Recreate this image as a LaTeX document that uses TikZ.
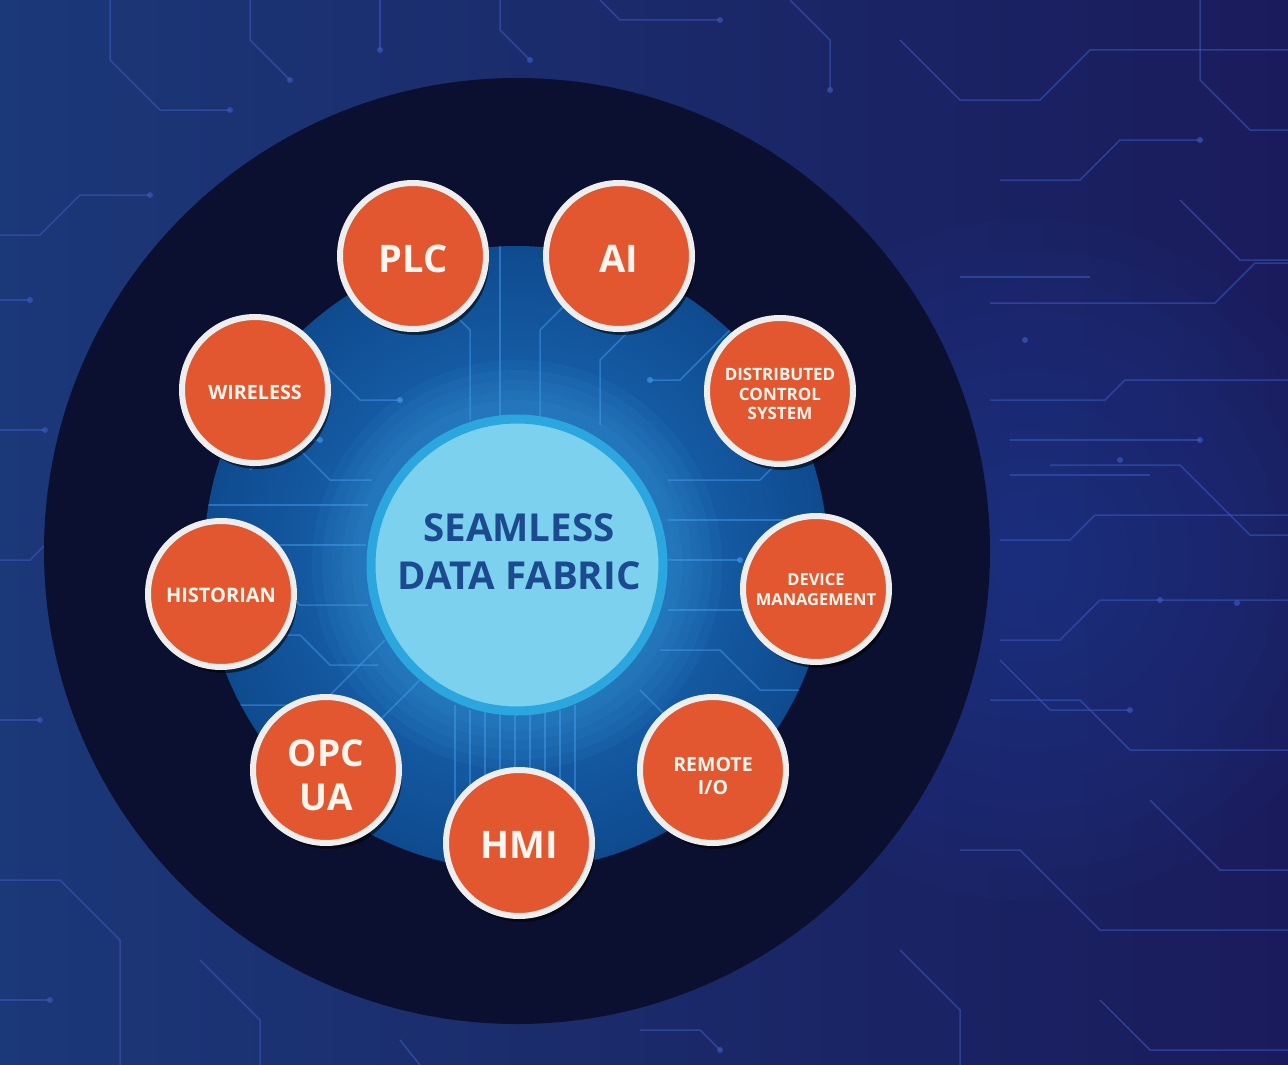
\documentclass[tikz,border=0pt]{standalone}
\usepackage{fontspec}
\setmainfont{Open Sans}
\usetikzlibrary{shadows,calc}
\definecolor{bgA}{HTML}{1B3878}
\definecolor{bgB}{HTML}{1A1B5C}
\definecolor{ringc}{HTML}{0C1030}
\definecolor{glowIn}{HTML}{1D78C8}
\definecolor{glowOut}{HTML}{0F4A8E}
\definecolor{hubFill}{HTML}{7CD2EE}
\definecolor{hubLine}{HTML}{2BA6DE}
\definecolor{hubText}{HTML}{1C4A8E}
\definecolor{orbc}{HTML}{E2572F}
\definecolor{orbRim}{HTML}{EEEEEE}
\definecolor{orbTxt}{HTML}{FDF6EE}
\definecolor{tracebg}{HTML}{3A5BC0}
\definecolor{tracein}{HTML}{3F95E6}
\definecolor{sideglow}{HTML}{2C4AA6}
\definecolor{hubhalo}{HTML}{4FB6F0}
\tikzset{
  orbstyle/.style={circle, fill=orbc, draw=orbRim, line width=6pt, minimum size=146pt,
    inner sep=0pt,
    drop shadow={shadow xshift=3pt, shadow yshift=-6pt, opacity=.55, fill=black}},
  orbtext/.style={text=orbTxt, align=center, inner sep=0pt},
  bgtrace/.style={draw=tracebg, line width=1.5pt, opacity=.55},
  intrace/.style={draw=tracein, line width=1.5pt, opacity=.55},
}
\newcommand{\fsz}[2]{\fontsize{#1}{#2}\selectfont}
\begin{document}
\begin{tikzpicture}[x=1pt,y=-1pt]
\useasboundingbox (0,0) rectangle (1288,1065);
% background
\fill[left color=bgA, right color=bgB] (0,0) rectangle (1288,1065);
\foreach \r in {340,310,...,40}{
  \fill[color=sideglow, fill opacity=.05] (1030,560) circle (\r);
}
% background traces
\foreach \p in {
  {(0,235)--(40,235)--(80,195)--(150,195)},
  {(0,300)--(30,300)},
  {(110,0)--(110,60)--(160,110)--(230,110)},
  {(250,0)--(250,40)--(290,80)},
  {(380,0)--(380,50)},
  {(600,0)--(620,20)--(720,20)},
  {(790,0)--(830,40)--(830,90)},
  {(900,40)--(960,100)--(1040,100)--(1090,50)--(1288,50)},
  {(1000,180)--(1080,180)--(1120,140)--(1200,140)},
  {(960,277)--(1090,277)},
  {(990,303)--(1215,303)--(1255,263)--(1288,263)},
  {(990,400)--(1105,400)--(1125,380)--(1288,380)},
  {(1010,440)--(1200,440)},
  {(1050,465)--(1180,465)--(1250,535)--(1288,535)},
  {(1010,475)--(1150,475)},
  {(1000,540)--(1070,540)--(1095,515)--(1288,515)},
  {(1000,640)--(1060,640)--(1100,600)--(1288,600)},
  {(990,700)--(1080,700)--(1130,750)--(1288,750)},
  {(1000,660)--(1050,710)--(1130,710)},
  {(960,850)--(1020,850)--(1100,930)--(1288,930)},
  {(900,950)--(960,1010)--(960,1065)},
  {(1150,800)--(1220,870)--(1288,870)},
  {(0,720)--(40,720)},
  {(0,880)--(60,880)--(120,940)--(120,1065)},
  {(200,960)--(260,1020)--(260,1065)},
  {(400,1040)--(420,1065)},
  {(640,1030)--(700,1030)--(720,1050)},
  {(0,430)--(45,430)},
  {(1200,0)--(1200,80)--(1250,130)--(1288,130)},
  {(1100,1000)--(1150,1050)--(1288,1050)},
  {(0,1000)--(50,1000)},
  {(500,0)--(500,30)--(530,60)},
  {(1180,200)--(1240,260)--(1288,260)},
  {(0,560)--(30,560)--(50,540)}
}{
  \draw[bgtrace] \p;
}
\foreach \q in {(150,195),(230,110),(290,80),(380,50),(720,20),(830,90),(1200,140),(1200,440),(530,60),(50,1000),(720,1050),(30,300),(40,720),(45,430),(1120,460),(1160,600),(1237,603),(1025,340),(1130,710)}{
  \fill[tracebg, opacity=.65] \q circle (3);
}
% big dark ring
\fill[ringc] (517,551) circle (473);
% inner glow region
\shade[inner color=glowIn, outer color=glowOut] (516,558) circle (312);
\begin{scope}
\clip (516,558) circle (312);
\foreach \p in {
  {(200,450)--(300,450)--(330,480)--(372,480)},
  {(200,505)--(368,505)},
  {(200,545)--(366,545)},
  {(200,585)--(280,585)--(300,605)--(368,605)},
  {(200,635)--(300,635)--(330,665)--(378,665)},
  {(230,705)--(320,705)--(385,640)},
  {(668,480)--(760,480)--(790,450)--(840,450)},
  {(668,520)--(840,520)},
  {(668,560)--(740,560)},
  {(668,610)--(840,610)},
  {(660,650)--(720,650)--(760,690)--(840,690)},
  {(455,705)--(455,880)},{(470,710)--(470,880)},{(485,712)--(485,880)},
  {(500,714)--(500,880)},{(515,715)--(515,880)},{(530,714)--(530,880)},
  {(545,712)--(545,880)},{(560,710)--(560,880)},{(575,705)--(575,880)},
  {(470,420)--(470,330)--(440,300)--(440,240)},
  {(500,416)--(500,240)},
  {(540,416)--(540,330)--(570,300)--(570,240)},
  {(600,425)--(600,360)--(640,320)},
  {(290,330)--(360,400)--(400,400)},
  {(740,320)--(680,380)--(650,380)},
  {(330,770)--(420,680)},
  {(640,690)--(720,770)},
  {(250,470)--(280,440)--(320,440)}
}{
  \draw[intrace] \p;
}
\foreach \q in {(740,560),(640,320),(400,400),(650,380),(320,440),(290,330),(740,320)}{
  \fill[tracein, opacity=.7] \q circle (3);
}
\end{scope}
% hub halo
\foreach \r in {205,195,...,160}{
  \fill[color=hubhalo, fill opacity=.06] (517,565) circle (\r);
}
% hub
\node[circle, fill=hubFill, draw=hubLine, line width=9pt, minimum size=292pt, inner sep=0pt] (hub) at (517,565) {};
\node[text=hubText, font=\bfseries\fsz{38.5}{48}, align=center] (hubtext) at (519,552) {SEAMLESS\\DATA FABRIC};
% orbs
\node[orbstyle, label={[orbtext, font=\bfseries\fsz{38}{44}, yshift=-3pt]center:PLC}] (plc) at (413,256) {};
\node[orbstyle, label={[orbtext, font=\bfseries\fsz{38}{44}, yshift=-3pt]center:AI}] (ai) at (619,256) {};
\node[orbstyle, label={[orbtext, font=\bfseries\fsz{19.7}{22}, yshift=-2pt]center:WIRELESS}] (wireless) at (255,390) {};
\node[orbstyle, label={[orbtext, font=\bfseries\fsz{17}{19.5}, yshift=-3pt]center:DISTRIBUTED\\CONTROL\\SYSTEM}] (dcs) at (780,391) {};
\node[orbstyle, label={[orbtext, font=\bfseries\fsz{20}{22}, yshift=-1pt]center:HISTORIAN}] (historian) at (221,594) {};
\node[orbstyle, label={[orbtext, font=\bfseries\fsz{16.5}{20}, yshift=-1pt]center:DEVICE\\MANAGEMENT}] (devmgmt) at (816,589) {};
\node[orbstyle, label={[orbtext, font=\bfseries\fsz{37}{44}, yshift=-5pt]center:OPC\\UA}] (opcua) at (326,770) {};
\node[orbstyle, label={[orbtext, font=\bfseries\fsz{19.5}{23.5}, yshift=-6pt]center:REMOTE\\I/O}] (remoteio) at (713,770) {};
\node[orbstyle, label={[orbtext, font=\bfseries\fsz{38}{44}, yshift=-2pt]center:HMI}] (hmi) at (519,843) {};
\end{tikzpicture}
\end{document}
